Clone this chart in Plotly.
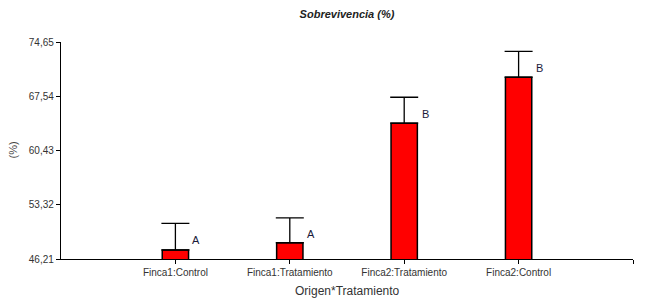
import plotly.graph_objects as go

categories = ["Finca1:Control", "Finca1:Tratamiento", "Finca2:Tratamiento", "Finca2:Control"]
means = [47.39, 48.34, 64.01, 70.03]
errors = [3.5, 3.25, 3.4, 3.4]
letters = ["A", "A", "B", "B"]
y_ticks = [46.21, 53.32, 60.43, 67.54, 74.65]

xs = list(range(len(categories)))

fig = go.Figure()
fig.add_trace(go.Bar(
    x=xs, y=means, width=0.23,
    marker=dict(color="#FF0000", line=dict(color="black", width=1.5)),
    error_y=dict(type="data", symmetric=False, array=errors,
                 arrayminus=[0] * len(errors), color="black",
                 thickness=1.3, width=14),
    showlegend=False,
))

for x, m, e, l in zip(xs, means, errors, letters):
    fig.add_annotation(x=x, y=m + e * 0.37, text=l, showarrow=False,
                       xshift=21, yanchor="middle", xanchor="center",
                       font=dict(size=11, color="#1a1a3a"))

fig.add_annotation(xref="paper", yref="paper", x=-49 / 572, y=0.5,
                   xanchor="center", yanchor="middle",
                   text="(%)", textangle=-90, showarrow=False,
                   font=dict(size=11, color="#444"))
fig.add_annotation(xref="paper", yref="paper", x=0.5, y=-32 / 217,
                   xanchor="center", yanchor="middle",
                   text="Origen*Tratamiento", showarrow=False,
                   font=dict(size=12, color="#333"))

fig.update_layout(
    width=648, height=298,
    margin=dict(l=61, r=15, t=42, b=39),
    paper_bgcolor="white", plot_bgcolor="white",
    separators=",.",
    font=dict(family="Liberation Sans, Arial, sans-serif", size=10, color="#333"),
    title=dict(text="<b><i>Sobrevivencia (%)</i></b>", x=0.5 * 572 / 648 + 61 / 648,
               xanchor="center", y=1 - 14 / 298, yanchor="middle",
               font=dict(size=11, color="#222")),
    xaxis=dict(range=[-1, len(categories)], tickmode="array",
               tickvals=xs + [len(categories)],
               ticktext=categories + [" "],
               showline=True, linecolor="black", linewidth=1.3,
               ticks="outside", ticklen=4, tickcolor="black",
               showgrid=False, zeroline=False),
    yaxis=dict(range=[y_ticks[0], y_ticks[-1]], tickmode="array",
               tickvals=y_ticks, ticktext=[f"{v:.2f}".replace(".", ",") for v in y_ticks],
               showline=True, linecolor="black", linewidth=1.3,
               ticks="outside", ticklen=4, tickcolor="black",
               showgrid=False, zeroline=False),
)

fig.write_html("out.html")
